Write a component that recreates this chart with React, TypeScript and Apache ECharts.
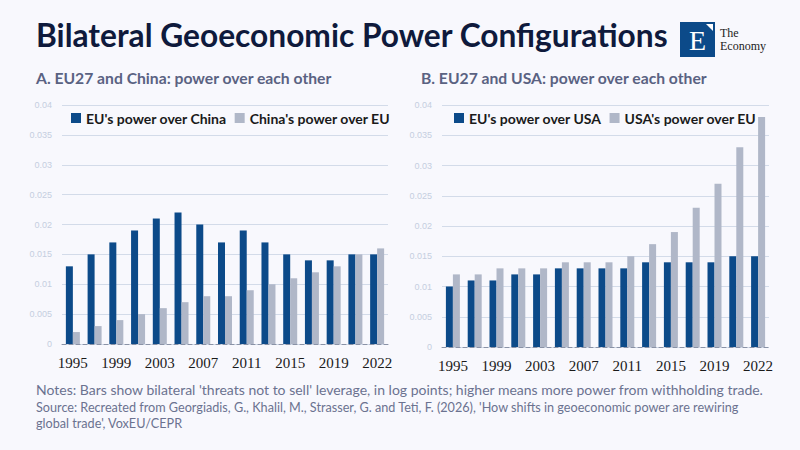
import React, { useEffect, useRef } from "react";
import * as echarts from "echarts";

const years = ["1995","1997","1999","2001","2003","2005","2007","2009","2011","2013","2015","2017","2019","2021","2022"];
const euOverChina = [0.013,0.015,0.017,0.019,0.021,0.022,0.020,0.017,0.019,0.017,0.015,0.014,0.014,0.015,0.015];
const chinaOverEu = [0.002,0.003,0.004,0.005,0.006,0.007,0.008,0.008,0.009,0.010,0.011,0.012,0.013,0.015,0.016];
const euOverUsa = [0.010,0.011,0.011,0.012,0.012,0.013,0.013,0.013,0.013,0.014,0.014,0.014,0.014,0.015,0.015];
const usaOverEu = [0.012,0.012,0.013,0.013,0.013,0.014,0.014,0.014,0.015,0.017,0.019,0.023,0.027,0.033,0.038];

const titleText = "Bilateral Geoeconomic Power Configurations";
const subA = "A. EU27 and China: power over each other";
const subB = "B. EU27 and USA: power over each other";
const notes = "Notes: Bars show bilateral 'threats not to sell' leverage, in log points; higher means more power from withholding trade.";
const source1 = "Source: Recreated from Georgiadis, G., Khalil, M., Strasser, G. and Teti, F. (2026), 'How shifts in geoeconomic power are rewiring";
const source2 = "global trade', VoxEU/CEPR";

const DARK = "#0c4a89";
const GRAY = "#b0b7c8";
const SANS = "Lato, 'Noto Sans', sans-serif";

export default function App() {
  const ref = useRef<HTMLDivElement>(null);
  useEffect(() => {
    if (!ref.current) return;
    const chart = echarts.init(ref.current, undefined, { renderer: "svg" });
    const yAxisBase = (gi: number) => ({
      type: "value",
      gridIndex: gi,
      min: 0,
      max: 0.04,
      interval: 0.005,
      axisLine: { show: false },
      axisTick: { show: false },
      axisLabel: { color: "#c5cee0", fontSize: 9, fontFamily: "'Liberation Sans', sans-serif", margin: 10 },
      splitLine: { lineStyle: { color: "#d3dbe9", width: 1 } },
    });
    const xAxisBase = (gi: number) => ({
      type: "category",
      gridIndex: gi,
      data: years,
      axisTick: { show: false },
      axisLine: { show: true, onZero: true, lineStyle: { color: "#8a92a6", type: [4, 3], width: 1 } },
      axisLabel: { interval: 1, color: "#1a1a1a", fontSize: 15, fontFamily: "'Liberation Serif', serif", margin: 11 },
    });
    const legendBase = {
      itemWidth: 10,
      itemHeight: 10,
      icon: "rect",
      itemGap: 8,
      textStyle: { color: "#1a1a1a", fontSize: 14, fontWeight: "bold", fontFamily: SANS },
    };
    const option: any = {
      animation: false,
      backgroundColor: "#f8f8fd",
      grid: [
        { left: 62, right: 412, top: 105, bottom: 106 },
        { left: 442, right: 31, top: 105, bottom: 103 },
      ],
      xAxis: [xAxisBase(0), xAxisBase(1)],
      yAxis: [yAxisBase(0), yAxisBase(1)],
      legend: [
        { ...legendBase, left: 66, top: 106, data: ["EU's power over China", "China's power over EU"] },
        { ...legendBase, left: 449, top: 106, data: ["EU's power over USA", "USA's power over EU"] },
      ],
      series: [
        { name: "EU's power over China", type: "bar", xAxisIndex: 0, yAxisIndex: 0, data: euOverChina, itemStyle: { color: DARK }, barWidth: 7, barGap: "0%" },
        { name: "China's power over EU", type: "bar", xAxisIndex: 0, yAxisIndex: 0, data: chinaOverEu, itemStyle: { color: GRAY }, barWidth: 7, barGap: "0%" },
        { name: "EU's power over USA", type: "bar", xAxisIndex: 1, yAxisIndex: 1, data: euOverUsa, itemStyle: { color: DARK }, barWidth: 7, barGap: "0%" },
        { name: "USA's power over EU", type: "bar", xAxisIndex: 1, yAxisIndex: 1, data: usaOverEu, itemStyle: { color: GRAY }, barWidth: 7, barGap: "0%" },
      ],
      graphic: [
        { type: "text", left: 36, top: 19, style: { text: titleText, fill: "#0f1a3c", font: `bold 31.7px ${SANS}` } },
        { type: "text", left: 36, top: 70, style: { text: subA, fill: "#5a6282", font: `bold 15.7px ${SANS}` } },
        { type: "text", left: 421, top: 70, style: { text: subB, fill: "#5a6282", font: `bold 15.7px ${SANS}` } },
        { type: "text", left: 36, top: 382, style: { text: notes, fill: "#6b7290", font: `14px ${SANS}` } },
        { type: "text", left: 36, top: 401, style: { text: source1, fill: "#6b7290", font: `12.65px ${SANS}` } },
        { type: "text", left: 36, top: 417, style: { text: source2, fill: "#6b7290", font: `12.65px ${SANS}` } },
        { type: "rect", shape: { x: 680, y: 22, width: 35, height: 35 }, style: { fill: DARK } },
        { type: "polygon", shape: { points: [[706, 24], [713, 24], [713, 31]] }, style: { fill: "#ffffff" } },
        { type: "text", x: 697.5, y: 40, style: { text: "E", fill: "#ffffff", font: "28px 'Liberation Serif', serif", align: "center", verticalAlign: "middle" } },
        { type: "text", x: 720, y: 32.5, style: { text: "The", fill: "#222222", font: "12px 'Liberation Serif', serif", verticalAlign: "middle" } },
        { type: "text", x: 720, y: 45.5, style: { text: "Economy", fill: "#222222", font: "12px 'Liberation Serif', serif", verticalAlign: "middle" } },
      ],
    };
    chart.setOption(option);
    return () => chart.dispose();
  }, []);
  return <div ref={ref} style={{ position: "fixed", left: 0, top: 0, width: 800, height: 450 }} />;
}
